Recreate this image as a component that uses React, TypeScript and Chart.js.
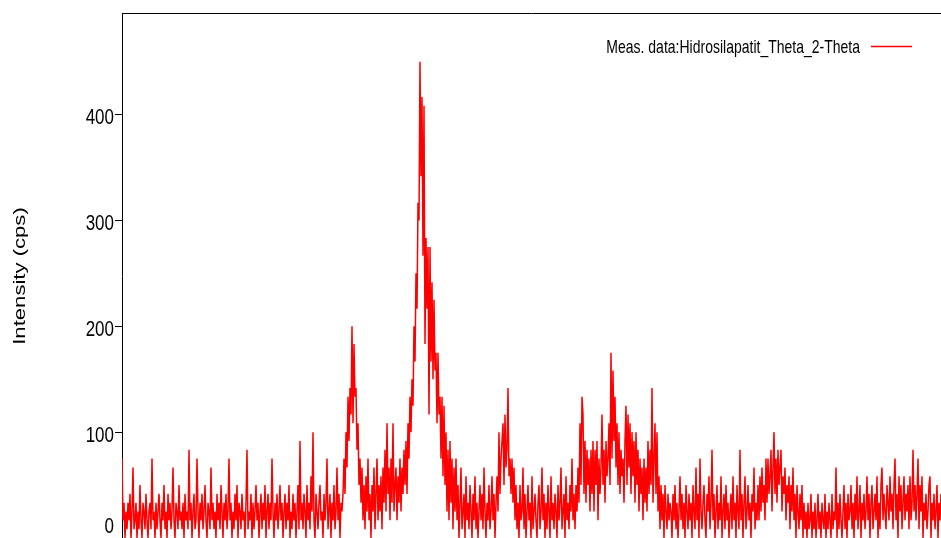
import { useEffect, useRef } from 'react';
import { Chart, registerables } from 'chart.js';

Chart.register(...registerables);

const SERIES_LABEL = 'Meas. data:Hidrosilapatit_Theta_2-Theta';
const Y_TITLE = 'Intensity (cps)';
const Y_MAX = 495;
const Y_TICKS = [0, 100, 200, 300, 400];
// detector counts per step; 1 count = 25/3 cps
const CPS_PER_COUNT = 25 / 3;

// baseline before first peak
const countsA = [
  9,2,4,0,3,1,4,2,5,0,3,8,1,2,4,0,3,1,6,2,
  0,4,3,1,5,2,0,3,4,1,9,2,3,0,4,1,3,5,2,0,
  4,2,6,1,3,0,5,2,4,1,3,8,2,0,4,3,1,6,2,3,
  1,4,0,5,2,3,1,10,2,4,0,3,5,1,2,9,3,0,4,2,
  5,1,3,6,2,0,4,3,1,8,2,4,1,3,0,5,2,4,1,6,
  3,0,4,2,5,1,3,9,2,4,0,3,1,5,2,6,0,4,3,1,
  5,2,3,0,4,10,1,3,2,5,0,4,1,3,6,2,4,0,3,5,
  1,4,2,6,0,3,5,1,4,2,9,3,0,4,2,5,1,3,6,2,
  4,0,3,5,1,4,2,6,0,3,1,5,2,4,0,3,6,1,11,2,
  4,1,5,3,0,6,2,4,1,7,3,12,2,0,5,3,1,4,6,2,
  3,0,5,2,4,9,1,3,5,0,4,2,6,1,3,8,2,5,0,4,
  3,
];
// first peak
const countsB = [5,9,5,12,8,16,11,17,14,24,13,22,16,17,10,13,6,9];
// shoulder before main peak
const countsC = [
  4,8,2,6,1,7,3,9,2,5,0,6,3,8,1,5,9,2,6,3,
  7,1,8,4,10,3,13,5,8,2,9,4,13,3,6,8,2,7,4,9,
  3,8,5,10,
];
// main peak
const countsD = [
  6,11,5,13,9,16,12,18,15,24,20,30,26,38,36,54,41,50,32,49,
  22,34,26,33,14,33,20,29,18,27,19,21,13,21,14,16,9,16,7,15,
  6,12,3,10,2,11,4,9,1,8,3,9,
];
const countsE = [
  2,6,0,4,8,1,3,5,0,7,2,4,1,6,3,0,5,2,7,1,
  4,0,3,6,2,5,1,8,3,0,4,2,6,1,3,7,2,5,0,4,
];
// second small peak
const countsF = [7,3,12,5,9,11,13,6,14,8,10,17,7,9,5,9,4,8,2,6];
const countsG = [
  1,4,0,6,2,3,8,1,5,0,3,6,2,4,0,7,1,3,5,2,
  0,4,6,1,3,8,2,5,0,4,1,6,3,0,7,2,4,1,5,3,
  0,6,2,4,8,1,3,5,0,7,2,4,1,6,3,9,2,5,1,6,
  3,
];
// broad hump
const countsH = [
  8,4,13,6,16,14,5,11,4,10,6,9,3,10,5,11,3,10,6,11,
  2,9,5,8,14,6,10,4,11,7,9,13,6,21,9,19,11,16,8,13,
  6,12,5,10,7,9,4,11,15,6,14,8,13,5,12,7,11,4,12,6,
  10,3,9,5,8,2,9,4,8,3,11,5,10,6,17,4,9,13,5,12,
  3,7,1,6,2,5,0,6,3,1,5,2,4,
];
const countsI = [
  3,0,5,2,6,1,4,0,3,7,2,5,1,4,0,6,3,1,5,2,
  4,0,6,3,1,8,2,5,0,9,3,1,4,6,2,0,5,3,7,1,
  4,10,2,5,0,3,6,1,4,2,7,0,3,5,1,6,2,4,0,3,
  5,1,7,2,4,0,6,3,1,10,2,5,0,4,7,1,3,6,2,4,
  0,5,3,8,1,4,2,
];
const countsJ = [
  6,2,7,3,8,4,6,2,9,4,9,5,7,10,3,8,12,5,9,4,
  10,6,8,10,3,7,5,8,2,6,4,7,1,6,3,8,2,5,0,6,
  3,1,5,2,6,0,4,1,
];
const countsK = [
  3,0,4,1,2,5,0,3,1,4,0,2,5,1,3,0,4,2,1,5,
  0,3,1,4,2,0,5,1,3,2,8,0,4,1,5,2,0,3,6,1,
];
const countsL = [
  4,0,5,2,3,6,1,4,0,5,2,7,1,3,6,0,4,2,5,1,
  3,7,2,5,0,4,6,1,3,5,2,7,0,4,1,6,8,2,5,3,
  1,6,4,2,7,3,5,1,6,9,2,5,0,7,3,6,1,4,7,2,
  5,3,6,1,7,2,4,10,3,6,2,5,9,1,6,3,7,0,4,2,
  5,1,3,6,7,0,4,2,5,1,3,6,0,4,2,5,
];

const counts = [
  ...countsA, ...countsB, ...countsC, ...countsD, ...countsE, ...countsF,
  ...countsG, ...countsH, ...countsI, ...countsJ, ...countsK, ...countsL,
];

const FAMILY = "'Liberation Sans', Arial, sans-serif";
// the source picture is stretched vertically; text is drawn with the same stretch
const STRETCH = 1.3;

const overlay = {
  id: 'overlay',
  afterDraw(chart: any) {
    const { ctx, chartArea } = chart;
    const yScale = chart.scales.y;
    ctx.save();
    // top frame line
    ctx.strokeStyle = '#000';
    ctx.lineWidth = 1;
    ctx.beginPath();
    ctx.moveTo(chartArea.left, 13.5);
    ctx.lineTo(chart.width, 13.5);
    ctx.stroke();

    // y tick labels
    ctx.fillStyle = '#000';
    ctx.font = `17px ${FAMILY}`;
    ctx.textAlign = 'right';
    ctx.textBaseline = 'alphabetic';
    const labelRight = chartArea.left - 8;
    for (const v of Y_TICKS) {
      const py = v === 0 ? 533 : yScale.getPixelForValue(v) + 9.5;
      ctx.save();
      ctx.translate(labelRight, py);
      ctx.scale(1, STRETCH);
      ctx.fillText(String(v), 0, 0);
      ctx.restore();
    }

    // y axis title
    ctx.save();
    ctx.font = `17px ${FAMILY}`;
    ctx.textAlign = 'center';
    ctx.textBaseline = 'alphabetic';
    ctx.translate(24.5, (chartArea.top + chartArea.bottom) / 2);
    ctx.rotate(-Math.PI / 2);
    ctx.scale(STRETCH, 1);
    ctx.fillText(Y_TITLE, 0, 0);
    ctx.restore();

    // legend: text then line sample
    ctx.save();
    ctx.font = `14px ${FAMILY}`;
    ctx.textAlign = 'right';
    ctx.textBaseline = 'alphabetic';
    ctx.translate(860, 53.3);
    ctx.scale(1, STRETCH);
    ctx.fillText(SERIES_LABEL, 0, 0);
    ctx.restore();
    ctx.strokeStyle = '#ff0000';
    ctx.lineWidth = 1.5;
    ctx.beginPath();
    ctx.moveTo(871, 46.5);
    ctx.lineTo(912, 46.5);
    ctx.stroke();
    ctx.restore();
  },
};

export default function App() {
  const ref = useRef<HTMLCanvasElement | null>(null);
  useEffect(() => {
    if (!ref.current) return;
    const points = counts.map((c, i) => ({ x: i, y: c * CPS_PER_COUNT }));
    const chart = new Chart(ref.current, {
      type: 'line',
      data: {
        datasets: [
          {
            label: SERIES_LABEL,
            data: points,
            borderColor: '#ff0000',
            borderWidth: 1.5,
            pointRadius: 0,
            tension: 0,
            fill: false,
          },
        ],
      },
      options: {
        animation: false,
        responsive: false,
        devicePixelRatio: 1,
        parsing: false,
        layout: { padding: { top: 14, left: 0, right: 0, bottom: 0 } },
        plugins: { legend: { display: false }, tooltip: { enabled: false } },
        scales: {
          x: { type: 'linear', display: false, min: 0, max: counts.length - 1 },
          y: {
            type: 'linear',
            min: 0,
            max: Y_MAX,
            afterBuildTicks: (s: any) => {
              s.ticks = Y_TICKS.map((v) => ({ value: v }));
            },
            afterFit: (s: any) => {
              s.width = 122;
              s.paddingTop = 0;
              s.paddingBottom = 0;
            },
            ticks: { display: false },
            grid: { drawOnChartArea: false, drawTicks: true, tickLength: 7, color: '#000' },
            border: { display: true, color: '#000', width: 1 },
            title: { display: false },
          },
        },
      },
      plugins: [overlay],
    });
    return () => chart.destroy();
  }, []);
  return (
    <div style={{ position: 'absolute', left: 0, top: 0, width: 941, height: 538 }}>
      <canvas ref={ref} width={941} height={538} style={{ display: 'block' }} />
    </div>
  );
}
